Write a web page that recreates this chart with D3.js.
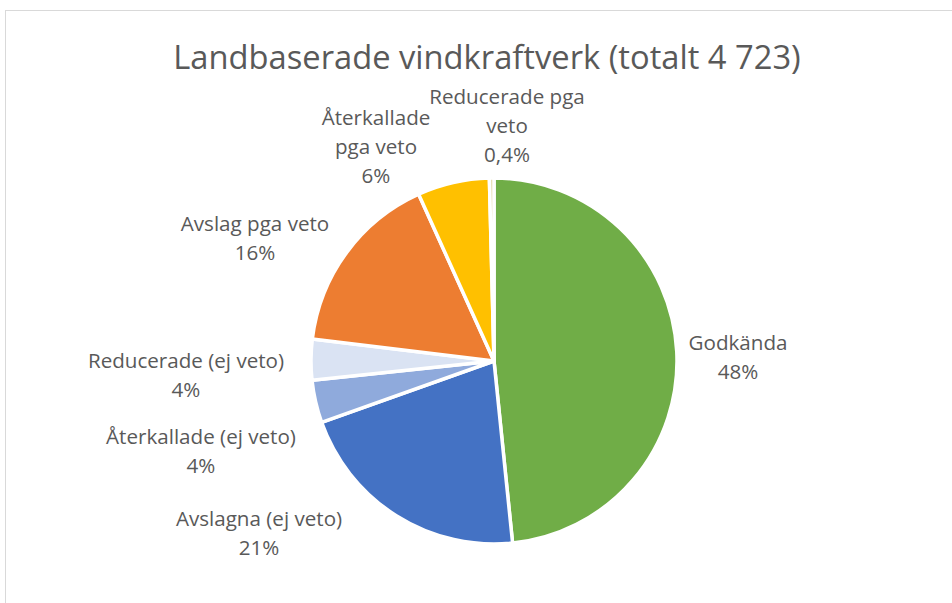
<!DOCTYPE html>
<html>
<head>
<meta charset="utf-8">
<script src="https://cdn.jsdelivr.net/npm/d3@7"></script>
<style>
  html, body { margin: 0; padding: 0; background: #ffffff; }
  svg { display: block; }
  text { font-family: "Open Sans", "Liberation Sans", sans-serif; fill: #595959; }
</style>
</head>
<body>
<svg id="chart" width="952" height="603"></svg>
<script>
// ---- data ----
const title = "Landbaserade vindkraftverk (totalt 4 723)";
const categories = [
  ["Godkända"],
  ["Avslagna (ej veto)"],
  ["Återkallade (ej veto)"],
  ["Reducerade (ej veto)"],
  ["Avslag pga veto"],
  ["Återkallade", "pga veto"],
  ["Reducerade pga", "veto"]
];
const values = [2285, 1000, 178, 170, 771, 300, 19];
const percentLabels = ["48%", "21%", "4%", "4%", "16%", "6%", "0,4%"];

// ---- style / layout ----
const colors = ["#70AD47", "#4472C4", "#8FAADC", "#DAE3F3", "#ED7D31", "#FFC000", "#E3D7A6"];
const W = 952, H = 603;
const cx = 494, cy = 361, R = 183;
// label block centers, relative to the pie centre
const labelOffsets = [
  [244, -4], [-235, 172], [-293, 90], [-308, 14], [-239, -123], [-118, -214], [13, -235]
];
const lineH = 29;

const svg = d3.select("#chart");

// chart frame
svg.append("rect")
  .attr("x", 5.5).attr("y", 10.5)
  .attr("width", W + 20).attr("height", H + 20)
  .attr("fill", "#ffffff")
  .attr("stroke", "#d9d9d9").attr("stroke-width", 1);

// title
svg.append("text")
  .attr("x", 487).attr("y", 69)
  .attr("text-anchor", "middle")
  .style("font-size", "32.7px")
  .text(title);

const pie = d3.pie().sort(null).value(d => d)
  .startAngle(0).endAngle(2 * Math.PI);
const arcs = pie(values);
const arc = d3.arc().innerRadius(0).outerRadius(R);

const g = svg.append("g").attr("transform", `translate(${cx},${cy})`);
g.selectAll("path.slice")
  .data(arcs)
  .join("path")
  .attr("class", "slice")
  .attr("d", arc)
  .attr("fill", (d, i) => colors[i])
  .attr("stroke", "#ffffff")
  .attr("stroke-width", 3.5)
  .attr("stroke-linejoin", "round");

// labels
const lg = g.selectAll("g.label")
  .data(arcs)
  .join("g")
  .attr("class", "label")
  .attr("transform", (d, i) => `translate(${labelOffsets[i][0]},${labelOffsets[i][1]})`);

lg.each(function (d, i) {
  const lines = categories[i].concat([percentLabels[i]]);
  const n = lines.length;
  const t = d3.select(this).append("text")
    .attr("text-anchor", "middle")
    .style("font-size", "20.6px");
  lines.forEach((s, k) => {
    t.append("tspan")
      .attr("x", 0)
      .attr("y", (k - (n - 1) / 2) * lineH)
      .attr("dy", "0.35em")
      .text(s);
  });
});
</script>
</body>
</html>
